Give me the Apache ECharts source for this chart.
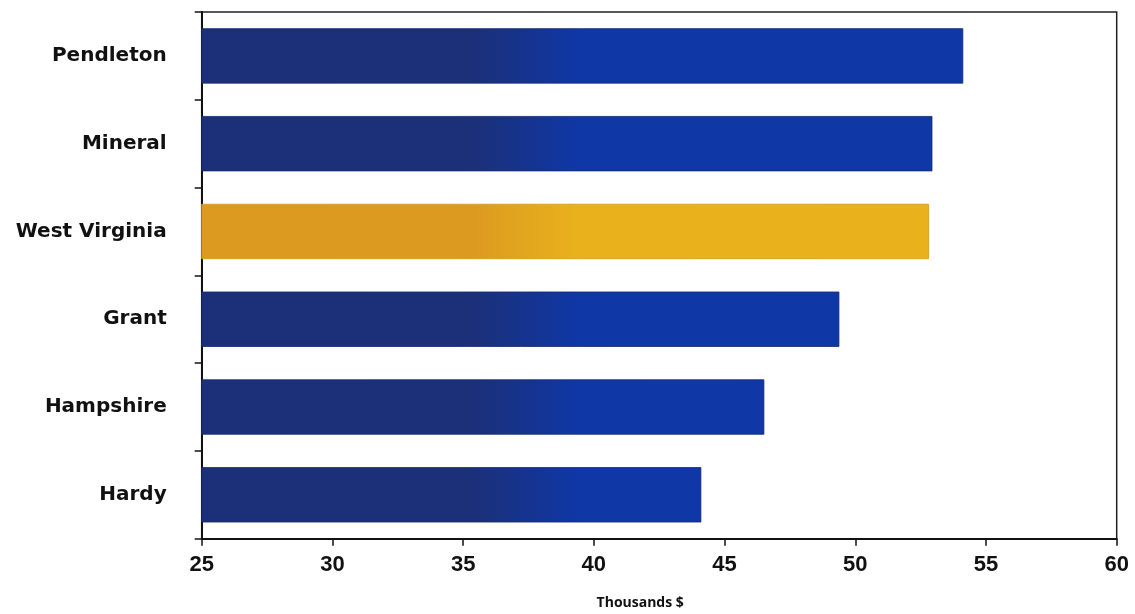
<!DOCTYPE html>
<html>
<head>
<meta charset="utf-8">
<script src="https://cdn.jsdelivr.net/npm/echarts@6/dist/echarts.min.js"></script>
<style>
html,body{margin:0;padding:0;background:#fff;}
#c{width:1135px;height:614px;}
</style>
</head>
<body>
<div id="c"></div>
<script>
var categories = ['Pendleton', 'Mineral', 'West Virginia', 'Grant', 'Hampshire', 'Hardy'];
var values = [54.13, 52.95, 52.82, 49.39, 46.52, 44.11];
var highlight = 'West Virginia';
var xTicks = [25, 30, 35, 40, 45, 50, 55, 60];

function grad(c1, c2) {
  return new echarts.graphic.LinearGradient(201.7, 0, 1116.7, 0, [
    {offset: 0, color: c1},
    {offset: 0.30, color: c1},
    {offset: 0.41, color: c2},
    {offset: 1, color: c2}
  ], true);
}

var chart = echarts.init(document.getElementById('c'));
var data = categories.map(function (c, i) {
  var hl = c === highlight;
  return {
    value: values[i],
    itemStyle: {
      color: hl ? grad('#dc9b20', '#e9b11c') : grad('#1b3079', '#0f37a6'),
      borderColor: hl ? '#d8961a' : '#13286e',
      borderWidth: 0.8
    }
  };
});

chart.setOption({
  animation: false,
  backgroundColor: '#ffffff',
  grid: {
    left: 201.7, right: 18.3, top: 12, bottom: 75.3,
    outerBoundsMode: 'none',
    containLabel: false,
    show: true, borderColor: '#222', borderWidth: 1.5, backgroundColor: 'transparent'
  },
  xAxis: {
    type: 'value',
    min: xTicks[0], max: xTicks[xTicks.length - 1], interval: 5,
    name: 'Thousands $',
    nameLocation: 'middle',
    nameGap: 57,
    nameTextStyle: {
      fontFamily: 'Open Sans', fontWeight: 'bold', fontSize: 14, color: '#111',
      padding: [0, 38, 0, 0]
    },
    axisLine: {show: true, lineStyle: {color: '#111', width: 2}},
    axisTick: {show: true, length: 7, lineStyle: {color: '#111', width: 1.5}},
    splitLine: {show: false},
    axisLabel: {
      margin: 15,
      fontFamily: 'Liberation Sans', fontWeight: 'bold', fontSize: 22, color: '#111'
    }
  },
  yAxis: {
    type: 'category',
    data: categories,
    inverse: true,
    axisLine: {show: true, lineStyle: {color: '#111', width: 2}},
    axisTick: {show: true, length: 7, lineStyle: {color: '#111', width: 1.5}},
    axisLabel: {
      margin: 35,
      fontFamily: 'DejaVu Sans', fontWeight: 'bold', fontSize: 20, color: '#111'
    }
  },
  series: [{
    type: 'bar',
    data: data,
    barCategoryGap: '37%'
  }]
});
</script>
</body>
</html>
